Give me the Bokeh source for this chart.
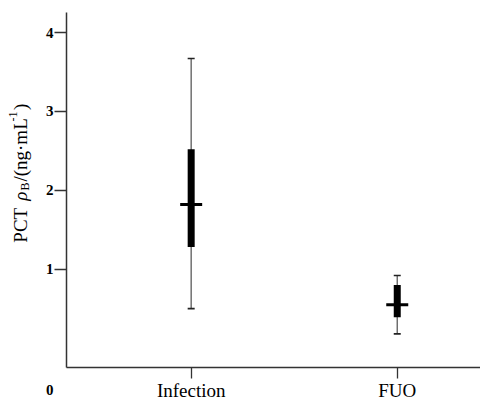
import math
from bokeh.plotting import figure
from bokeh.layouts import row
from bokeh.models import ColumnDataSource, FixedTicker, Range1d
from bokeh.core.properties import value
from bokeh.embed import file_html
from bokeh.resources import INLINE

# ---- data ----
groups = ["Infection", "FUO"]
group_pos = [1, 2]
whisker_low = [0.50, 0.18]
q1 = [1.28, 0.39]
median = [1.82, 0.55]
q3 = [2.52, 0.80]
whisker_high = [3.67, 0.92]
y_ticks = [1, 2, 3, 4]
origin_label = "0"

src = ColumnDataSource(dict(x=group_pos, lo=whisker_low, q1=q1, med=median,
                            q3=q3, hi=whisker_high))

FONT = "Liberation Serif"
H = 403
LBL_W = 40
MAIN_W = 440
Y0, Y1 = -0.246, 4.254

p = figure(width=MAIN_W, height=H, output_backend="svg", toolbar_location=None,
           x_range=Range1d(0.395, 2.404), y_range=Range1d(Y0, Y1),
           min_border_left=26, min_border_right=0, min_border_top=12,
           min_border_bottom=31)
p.outline_line_color = None
p.grid.visible = False

# whiskers
p.segment(x0="x", y0="lo", x1="x", y1="hi", source=src, line_color="#666666",
          line_width=1.4)
# caps
p.scatter(x="x", y="lo", source=src, marker="dash", size=7, line_color="#222222",
          line_width=1.6)
p.scatter(x="x", y="hi", source=src, marker="dash", size=7, line_color="#222222",
          line_width=1.6)
# boxes (IQR as thick bar)
p.segment(x0="x", y0="q1", x1="x", y1="q3", source=src, line_color="black",
          line_width=7, line_cap="butt")
# medians
p.scatter(x="x", y="med", source=src, marker="dash", size=22, line_color="black",
          line_width=3)

# axes
for ax in (p.xaxis[0], p.yaxis[0]):
    ax.axis_line_color = "#333333"
    ax.axis_line_width = 1.5
    ax.major_tick_line_color = "#333333"
    ax.major_tick_line_width = 1.3
    ax.major_tick_in = 0
    ax.major_label_text_font = FONT
    ax.major_label_text_color = "black"
p.xaxis.minor_tick_line_color = None

# origin "0" shown below the corner: a label-only tick at the bottom of the
# axis, pushed down by two empty lines; the visible tick marks are drawn as
# minor ticks at 1..4 so that the origin gets no tick mark.
origin_tick = Y0 + 0.0005
p.yaxis.ticker = FixedTicker(ticks=[origin_tick] + y_ticks, minor_ticks=y_ticks)
p.yaxis.major_label_overrides = {origin_tick: "\n\n" + origin_label}
p.yaxis.major_tick_line_color = None
p.yaxis.major_tick_out = 12
p.yaxis.minor_tick_line_color = "#333333"
p.yaxis.minor_tick_line_width = 1.3
p.yaxis.minor_tick_in = 0
p.yaxis.minor_tick_out = 12
p.yaxis.major_label_text_font_size = "15px"
p.yaxis.major_label_text_font_style = "bold"
p.yaxis.major_label_text_line_height = 1.4
p.yaxis.major_label_standoff = 1

p.xaxis.ticker = FixedTicker(ticks=group_pos)
p.xaxis.major_tick_out = 11
p.xaxis.major_label_overrides = {pos: g for pos, g in zip(group_pos, groups)}
p.xaxis.major_label_text_font_size = "19px"
p.xaxis.major_label_standoff = 1

# ---- y-axis title panel: PCT ρB/(ng·mL-1) with sub/superscripts ----
t = figure(width=LBL_W, height=H, output_backend="svg", toolbar_location=None,
           x_range=Range1d(0, LBL_W), y_range=Range1d(0, H),
           min_border_left=0, min_border_right=0, min_border_top=0,
           min_border_bottom=0)
t.axis.visible = False
t.grid.visible = False
t.outline_line_color = None

F, S = 19, 12
# (text, centre along the title, centre across it, font size, style)
pieces = [
    ("PCT", 161.5, 19.5, F, "normal"),
    ("ρ", 194.5, 19.5, F, "italic"),
    ("B", 205.5, 24.0, S, "normal"),
    ("/(ng·mL", 247.0, 19.5, F, "normal"),
    ("-1", 285.0, 12.5, S, "normal"),
    (")", 296.0, 19.5, F, "normal"),
]
for txt, yy, xx, fs, style in pieces:
    t.text(x=[xx], y=[yy], text=[txt], angle=math.pi / 2,
           text_font=value(FONT), text_font_size=f"{fs}px",
           text_font_style=style, text_align="center",
           text_baseline="middle", text_color="black")

layout = row(t, p, spacing=0)
open("out.html", "w").write(file_html(layout, INLINE))
